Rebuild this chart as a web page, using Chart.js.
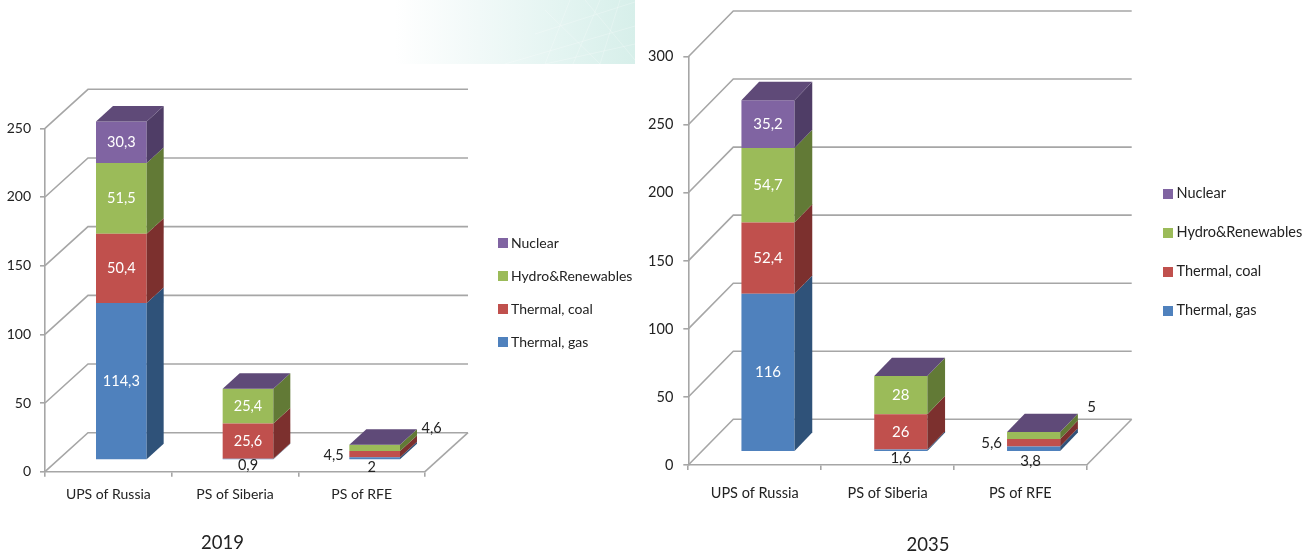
<!DOCTYPE html>
<html>
<head>
<meta charset="utf-8">
<title>Generation by power system, 2019 and 2035</title>
<script src="https://cdn.jsdelivr.net/npm/chart.js@4"></script>
<style>
  html, body { margin: 0; padding: 0; background: #fff; }
  body { position: relative; width: 1314px; height: 554px; overflow: hidden; }
  canvas { position: absolute; top: 0; }
  #chart2019 { left: 0; }
  #chart2035 { left: 640px; }
  .banner {
    position: absolute; left: 395px; top: 0; width: 240px; height: 64px;
    background: linear-gradient(90deg, #ffffff 0%, #f1f9f8 35%, #e3f4f1 70%, #d7efea 100%);
  }
  .banner svg { position: absolute; left: 0; top: 0; }
  .year { position: absolute; font: 18.5px Lato, sans-serif; color: #222; transform: translateX(-50%); }
</style>
</head>
<body>
<div class="banner">
  <svg width="240" height="64" fill="none" stroke="#fff" stroke-opacity=".25">
    <path d="M110 64L240 26M140 34L240 2M150 64L240 44M175 0L150 64M205 0L178 64M190 0L240 60M150 10L205 64M225 0L205 64"/>
  </svg>
</div>
<canvas id="chart2019" width="640" height="554"></canvas>
<canvas id="chart2035" width="674" height="554"></canvas>
<div class="year" style="left:222.5px;top:531px">2019</div>
<div class="year" style="left:928px;top:533px">2035</div>
<script>
const categories = ["UPS of Russia", "PS of Siberia", "PS of RFE"];
const seriesNames = ["Thermal, gas", "Thermal, coal", "Hydro&Renewables", "Nuclear"];

const gas2019 = [114.3, 0.9, 2];
const coal2019 = [50.4, 25.6, 4.5];
const hydro2019 = [51.5, 25.4, 4.6];
const nuclear2019 = [30.3, 0, 0];

const gas2035 = [116, 1.6, 3.8];
const coal2035 = [52.4, 26, 5.6];
const hydro2035 = [54.7, 28, 5];
const nuclear2035 = [35.2, 0, 0];

const frontColors = ["#4f81bd", "#c0504d", "#9bbb59", "#8064a2"];
const sideColors = ["#2f5279", "#7c302e", "#627a36", "#4f3d66"];
const topColor = "#5f4a78";
const gridColor = "#a6a6a6";
const fontName = 'Lato, sans-serif';

// labels of thin segments sit outside the bar: "series,category" -> dx, dy
const outside2019 = { "0,1": [0, 6], "0,2": [-3, 9], "1,2": [-41, 1], "2,2": [57, -20] };
const outside2035 = { "0,1": [0, 8], "0,2": [-3, 12], "1,2": [-42, 0], "2,2": [58, -28] };

// small square for the legend, drawn closer to its text than the default box
function legendSquare(color) {
  const c = document.createElement("canvas");
  c.width = 10;
  c.height = 10;
  const g = c.getContext("2d");
  g.fillStyle = color;
  g.fillRect(0, 0, 10, 10);
  return c;
}

// walls, floor and the side/top faces of the bars
const depth3d = {
  id: "depth3d",
  afterLayout(chart, args, o) {
    const lg = chart.legend;
    const w = lg.right - lg.left;
    const h = lg.bottom - lg.top;
    lg.left = o.legendX;
    lg.right = o.legendX + w;
    lg.top = o.legendY;
    lg.bottom = o.legendY + h;
  },
  beforeDatasetsDraw(chart, args, o) {
    const ctx = chart.ctx;
    const area = chart.chartArea;
    const y = chart.scales.y;
    ctx.save();
    ctx.strokeStyle = gridColor;
    ctx.lineWidth = 1.6;
    y.ticks.forEach(t => {
      const py = y.getPixelForValue(t.value);
      ctx.beginPath();
      ctx.moveTo(area.left, py);
      ctx.lineTo(area.left + o.wallX, py - o.wallY);
      ctx.lineTo(area.right + o.wallX, py - o.wallY);
      ctx.stroke();
    });
    ctx.beginPath();
    ctx.moveTo(area.right, area.bottom);
    ctx.lineTo(area.right + o.wallX, area.bottom - o.wallY);
    ctx.stroke();
    ctx.restore();

    // bars stand in the middle of the floor
    ctx.save();
    ctx.translate(o.shiftX, -o.shiftY);
  },
  afterDatasetsDraw(chart, args, o) {
    const ctx = chart.ctx;
    const last = chart.data.datasets.length - 1;
    const face = (pts, color) => {
      ctx.fillStyle = color;
      ctx.beginPath();
      pts.forEach((p, i) => i ? ctx.lineTo(p[0], p[1]) : ctx.moveTo(p[0], p[1]));
      ctx.closePath();
      ctx.fill();
    };

    chart.data.datasets.forEach((ds, d) => {
      chart.getDatasetMeta(d).data.forEach(bar => {
        const r = bar.x + bar.width / 2;
        const l = bar.x - bar.width / 2;
        if (bar.base !== bar.y) {
          face([[r, bar.y], [r, bar.base], [r + o.barX, bar.base - o.barY], [r + o.barX, bar.y - o.barY]], sideColors[d]);
        }
        if (d === last) {
          face([[l, bar.y], [r, bar.y], [r + o.barX, bar.y - o.barY], [l + o.barX, bar.y - o.barY]], topColor);
        }
      });
    });

    ctx.font = o.valueSize + "px " + fontName;
    ctx.textAlign = "center";
    ctx.textBaseline = "middle";
    chart.data.datasets.forEach((ds, d) => {
      chart.getDatasetMeta(d).data.forEach((bar, c) => {
        const v = ds.data[c];
        if (!v) return;
        const off = o.outside[d + "," + c];
        ctx.fillStyle = off ? "#222" : "#fff";
        const dx = off ? off[0] : 0;
        const dy = off ? off[1] : 0;
        ctx.fillText(String(v).replace(".", ","), bar.x + dx, (bar.y + bar.base) / 2 + dy);
      });
    });
    ctx.restore();
  }
};

function makeChart(id, series, yMax, g) {
  const textFont = { family: fontName, size: g.fontSize };
  return new Chart(document.getElementById(id), {
    type: "bar",
    data: {
      labels: categories,
      datasets: series.map((vals, i) => ({
        label: seriesNames[i],
        data: vals,
        backgroundColor: frontColors[i],
        barPercentage: 0.4,
        categoryPercentage: 1
      }))
    },
    plugins: [depth3d],
    options: {
      responsive: false,
      animation: false,
      layout: { padding: { left: 0, top: g.top, right: g.right, bottom: g.bottom } },
      scales: {
        x: {
          stacked: true,
          afterFit: s => { s.height = 50; },
          border: { color: gridColor, width: 1.6 },
          grid: { color: gridColor, lineWidth: 1.6, drawOnChartArea: false, tickLength: 5 },
          ticks: { color: "#222", padding: g.xPad, maxRotation: 0, font: textFont }
        },
        y: {
          stacked: true,
          min: 0,
          max: yMax,
          afterFit: s => { s.width = g.left; },
          border: { color: gridColor, width: 1.6 },
          grid: { color: gridColor, lineWidth: 1.6, drawOnChartArea: false, tickLength: 5 },
          ticks: { stepSize: 50, color: "#222", padding: g.yPad, font: textFont }
        }
      },
      plugins: {
        tooltip: { enabled: false },
        legend: {
          position: "chartArea",
          align: "start",
          reverse: true,
          labels: {
            usePointStyle: true,
            pointStyleWidth: 3,
            boxHeight: 10,
            padding: g.legendGap,
            color: "#222",
            font: textFont,
            generateLabels: chart => Chart.defaults.plugins.legend.labels.generateLabels(chart)
              .map((item, i) => ({ ...item, pointStyle: legendSquare(frontColors[i]) }))
          }
        },
        depth3d: g
      }
    }
  });
}

makeChart("chart2019", [gas2019, coal2019, hydro2019, nuclear2019], 250, {
  left: 45, top: 128.3, right: 215, bottom: 32.3, xPad: 9, yPad: 9, fontSize: 14, valueSize: 14.5,
  wallX: 43, wallY: 39, shiftX: 13, shiftY: 11.7, barX: 17, barY: 15.5,
  outside: outside2019, legendX: 482, legendY: 217, legendGap: 19
});

makeChart("chart2035", [gas2035, coal2035, hydro2035, nuclear2035], 300, {
  left: 48.3, top: 56.7, right: 227.3, bottom: 39, xPad: 15, yPad: 10, fontSize: 14.5, valueSize: 15,
  wallX: 45, wallY: 45.7, shiftX: 13.3, shiftY: 13.3, barX: 17.7, barY: 18.3,
  outside: outside2035, legendX: 501.75, legendY: 162, legendGap: 24.5
});
</script>
</body>
</html>
